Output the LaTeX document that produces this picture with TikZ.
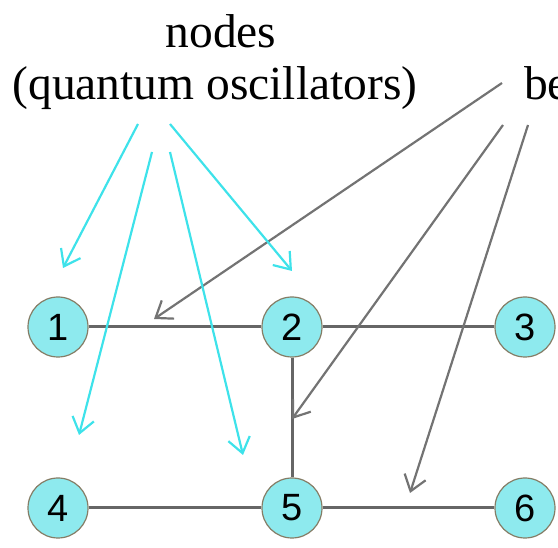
\documentclass[tikz,border=0pt]{standalone}
\usepackage{fontspec}
\setmainfont{Liberation Serif}
\newfontfamily\numfont{Liberation Sans}
\usetikzlibrary{arrows.meta}
\definecolor{nodefill}{HTML}{8EEAEE}
\definecolor{nodeline}{HTML}{857D66}
\definecolor{edgecol}{HTML}{666666}
\definecolor{cyanarrow}{HTML}{3EE2EA}
\definecolor{greyarrow}{HTML}{737373}
\tikzset{
  nd/.style={circle, fill=nodefill, draw=nodeline, line width=1.2pt, minimum size=60pt, inner sep=0pt, font=\numfont\fontsize{38}{38}\selectfont},
  edge/.style={draw=edgecol, line width=3pt},
  carrow/.style={draw=cyanarrow, line width=2.2pt, -{Straight Barb[length=15pt,width=22pt]}},
  garrow/.style={draw=greyarrow, line width=2.2pt, -{Straight Barb[length=15pt,width=22pt]}},
  lbl/.style={font=\fontsize{47.5}{47.5}\selectfont, inner sep=0pt, anchor=base}
}
\begin{document}
\begin{tikzpicture}[x=1pt,y=-1pt]
\useasboundingbox (0,0) rectangle (558,548);
% labels
\node[lbl] (t1) at (221,48) {nodes};
\node[lbl] (t2) at (215,100) {(quantum oscillators)};
\node[lbl, anchor=base west] (t3) at (524,100) {be};
% nodes
\node[nd] (n1) at (58,327) {1};
\node[nd] (n2) at (292,327) {2};
\node[nd] (n3) at (525,327) {3};
\node[nd] (n4) at (58,508) {4};
\node[nd] (n5) at (292,508) {5};
\node[nd] (n6) at (525,508) {6};
% edges
\path[edge] (n1) -- (n2);
\path[edge] (n2) -- (n3);
\path[edge] (n2) -- (n5);
\path[edge] (n4) -- (n5);
\path[edge] (n5) -- (n6);
% arrow coordinates
\coordinate (c1s) at (138,124); \coordinate (c1e) at (63,268);
\coordinate (c2s) at (170,124); \coordinate (c2e) at (292,271);
\coordinate (c3s) at (152,152); \coordinate (c3e) at (79,435);
\coordinate (c4s) at (170,152); \coordinate (c4e) at (243,455);
\coordinate (g1s) at (502,83);  \coordinate (g1e) at (154,319);
\coordinate (g2s) at (503,125); \coordinate (g2e) at (292,419);
\coordinate (g3s) at (528,125); \coordinate (g3e) at (410,493);
\draw[garrow] (g1s) -- (g1e);
\draw[garrow] (g2s) -- (g2e);
\draw[garrow] (g3s) -- (g3e);
\draw[carrow] (c1s) -- (c1e);
\draw[carrow] (c2s) -- (c2e);
\draw[carrow] (c3s) -- (c3e);
\draw[carrow] (c4s) -- (c4e);
\end{tikzpicture}
\end{document}
